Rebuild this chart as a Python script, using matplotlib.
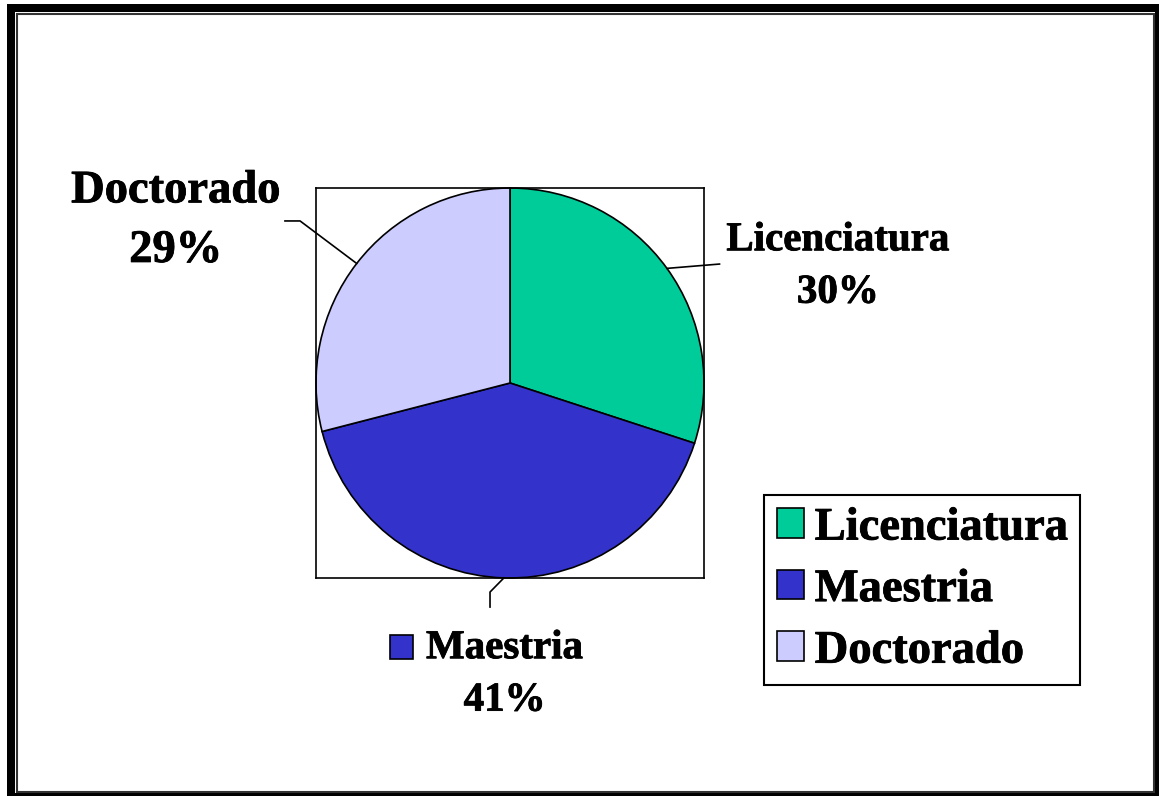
import matplotlib
matplotlib.use("Agg")
import matplotlib.pyplot as plt
import matplotlib.patheffects as pe
import numpy as np
from matplotlib.patches import Patch, Rectangle

categories = ["Licenciatura", "Maestria", "Doctorado"]
shares = [30, 41, 29]
colors = ["#00CC99", "#3333CC", "#CCCCFF"]

plt.rcParams["font.family"] = ["Liberation Serif", "DejaVu Serif"]
plt.rcParams["font.weight"] = "bold"

W, H = 1159, 796
fig = plt.figure(figsize=(W / 100, H / 100), dpi=100)


def fx(x):
    return x / W


def fy(y):
    return 1 - y / H


# chart-area frame: thick shadow bars + thin inner border
for x0, y0, x1, y1 in [(7, 4, 15, 796), (7, 4, 1159, 12), (1155, 4, 1159, 796), (7, 793, 1159, 796)]:
    fig.add_artist(Rectangle((fx(x0), fy(y1)), fx(x1) - fx(x0), fy(y0) - fy(y1),
                             transform=fig.transFigure, color="black", lw=0))
fig.add_artist(Rectangle((fx(17), fy(792)), fx(1154) - fx(17), fy(14) - fy(792),
                         transform=fig.transFigure, fill=False, ec="#333333", lw=1.5))

# plot area (square box around the pie)
ax = fig.add_axes([fx(316), fy(578), fx(704) - fx(316), fy(188) - fy(578)])
wedges, _ = ax.pie(shares, colors=colors, startangle=90, counterclock=False, radius=1,
                   wedgeprops=dict(edgecolor="black", linewidth=1.2), frame=True)
ax.set_xlim(-1, 1)
ax.set_ylim(-1, 1)
ax.set_aspect("auto")
ax.set_xticks([])
ax.set_yticks([])
for s in ax.spines.values():
    s.set_linewidth(1.2)

heavy = [pe.withStroke(linewidth=0.6, foreground="black")]

# data labels: text position, size and leader-line path (elbow points) per slice
label_pos = [(1.69, 0.595), (-0.028, -1.497), (-1.723, 0.83)]
label_size = [29.5, 29.5, 33.5]
leader_pts = [[(1.08, 0.61)], [(-0.103, -1.072), (-0.103, -1.149)], [(-1.082, 0.831), (-1.16, 0.831)]]
for w, cat, val, (tx, ty), fs, pts in zip(wedges, categories, shares, label_pos, label_size, leader_pts):
    mid = np.deg2rad((w.theta1 + w.theta2) / 2)
    xs = [np.cos(mid)] + [p[0] for p in pts]
    ys = [np.sin(mid)] + [p[1] for p in pts]
    ax.plot(xs, ys, color="black", lw=1.2, clip_on=False)
    ax.text(tx, ty, f"{cat}\n{val}%", ha="center", va="center", fontsize=fs,
            fontweight="bold", linespacing=1.55, clip_on=False, path_effects=heavy)

# legend key shown next to the Maestria label
ax.add_patch(Rectangle((-0.619, -1.415), 0.119, 0.123, facecolor=colors[1], edgecolor="black",
                       lw=1.2, clip_on=False))

handles = [Patch(facecolor=c, edgecolor="black", lw=1.2) for c in colors]
leg = ax.legend(handles, categories, loc="upper left", bbox_to_anchor=(fx(764), fy(495)),
                bbox_transform=fig.transFigure, fontsize=33.5, frameon=True, fancybox=False,
                edgecolor="black", framealpha=1, borderaxespad=0, handlelength=0.6,
                handleheight=0.6, handletextpad=0.22, labelspacing=0.42, borderpad=0.27)
leg.get_frame().set_linewidth(1.5)
for t in leg.get_texts():
    t.set_path_effects(heavy)

fig.savefig("out.png", dpi=100)
